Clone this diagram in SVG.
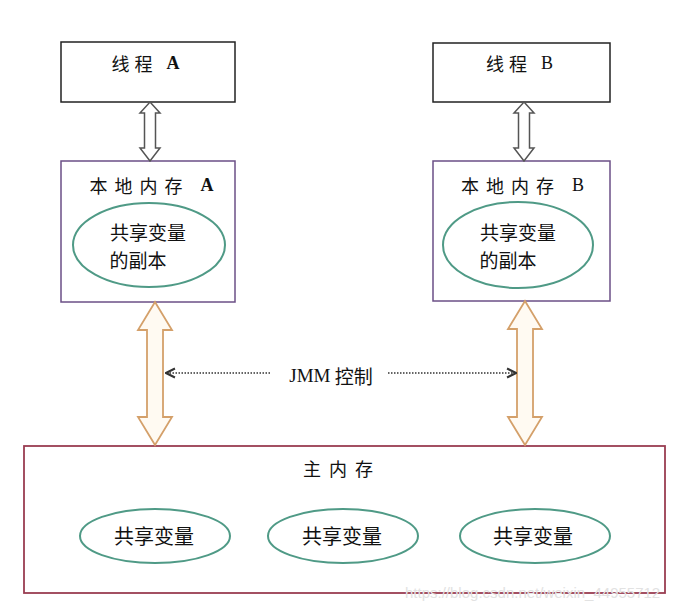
<svg xmlns="http://www.w3.org/2000/svg" width="687" height="612" viewBox="0 0 687 612">
<defs>
<style>
.thread{fill:#fff;stroke:#222;stroke-width:1.5}
.local{fill:#fff;stroke:#6b4f86;stroke-width:1.5}
.main{fill:#fff;stroke:#9a3d52;stroke-width:1.8}
.ell{fill:#fff;stroke:#4f9a86;stroke-width:2}
.t{font-family:"Noto Sans CJK SC","Liberation Sans",sans-serif;fill:#111;text-anchor:middle;dominant-baseline:central}
.gar{fill:#fff;stroke:#555;stroke-width:1.5;stroke-linejoin:miter}
.oar{fill:#fffaf2;stroke:#d4a06a;stroke-width:1.8}
.dot{stroke:#333;stroke-width:1.6;stroke-dasharray:1.5 1.5;fill:none}
.wm{font-family:"Liberation Sans",sans-serif;font-size:15px;fill:#e2e2e2}
</style>
<marker id="ah" viewBox="0 0 10 10" refX="9" refY="5" markerWidth="7" markerHeight="7" orient="auto-start-reverse">
<path d="M1,1 L9,5 L1,9" fill="none" stroke="#333" stroke-width="1.8"/>
</marker>
</defs>
<rect width="687" height="612" fill="#fff"/>

<g id="threadA">
<rect class="thread" x="61" y="42" width="174" height="60"/>
<text class="t" x="148" y="63" font-size="18" letter-spacing="5">线程 <tspan font-family="Liberation Serif" font-weight="bold">A</tspan></text>
</g>
<g id="threadB">
<rect class="thread" x="433" y="43" width="177" height="59"/>
<text class="t" x="522" y="63" font-size="18" letter-spacing="5">线程 <tspan font-family="Liberation Serif">B</tspan></text>
</g>

<g id="localA">
<rect class="local" x="61" y="161" width="174" height="141"/>
<text class="t" x="155" y="185" font-size="18" letter-spacing="7">本地内存 <tspan font-family="Liberation Serif" font-weight="bold">A</tspan></text>
<ellipse class="ell" cx="149" cy="245" rx="76" ry="42"/>
<text class="t" x="148" y="231" font-size="19">共享变量</text>
<text class="t" x="138" y="259" font-size="19">的副本</text>
</g>
<g id="localB">
<rect class="local" x="433" y="161" width="177" height="140"/>
<text class="t" x="526" y="185" font-size="18" letter-spacing="7">本地内存 <tspan font-family="Liberation Serif">B</tspan></text>
<ellipse class="ell" cx="518" cy="245" rx="75" ry="43"/>
<text class="t" x="518" y="231" font-size="19">共享变量</text>
<text class="t" x="508" y="259" font-size="19">的副本</text>
</g>

<g id="mainMemory">
<rect class="main" x="24" y="446" width="641" height="147"/>
<text class="t" x="342" y="468" font-size="18" letter-spacing="8">主内存</text>
<ellipse class="ell" cx="155" cy="536" rx="75" ry="27"/>
<text class="t" x="154" y="535" font-size="20">共享变量</text>
<ellipse class="ell" cx="343" cy="536" rx="75" ry="27"/>
<text class="t" x="342" y="535" font-size="20">共享变量</text>
<ellipse class="ell" cx="535" cy="536" rx="75" ry="27"/>
<text class="t" x="533" y="535" font-size="20">共享变量</text>
</g>

<g id="connectors">
<path class="gar" d="M150,102 L160,113 L155.5,113 L155.5,148 L160,148 L150,161 L140,148 L144.5,148 L144.5,113 L140,113 Z"/>
<path class="gar" d="M524,102 L534,113 L529.5,113 L529.5,148 L534,148 L524,161 L514,148 L518.5,148 L518.5,113 L514,113 Z"/>
<path class="oar" d="M155,302 L172,330 L163,330 L163,417 L172,417 L155,445 L138,417 L147,417 L147,330 L138,330 Z"/>
<path class="oar" d="M525,301 L542,329 L533,329 L533,417 L542,417 L525,445 L508,417 L517,417 L517,329 L508,329 Z"/>
<line class="dot" x1="270" y1="373" x2="166" y2="373" marker-end="url(#ah)"/>
<line class="dot" x1="388" y1="373" x2="516" y2="373" marker-end="url(#ah)"/>
<text class="t" x="331" y="375" font-size="19"><tspan font-family="Liberation Serif">JMM</tspan> 控制</text>
</g>

<text class="wm" x="405" y="598">https://blog.csdn.net/weixin_44955712</text>
</svg>
